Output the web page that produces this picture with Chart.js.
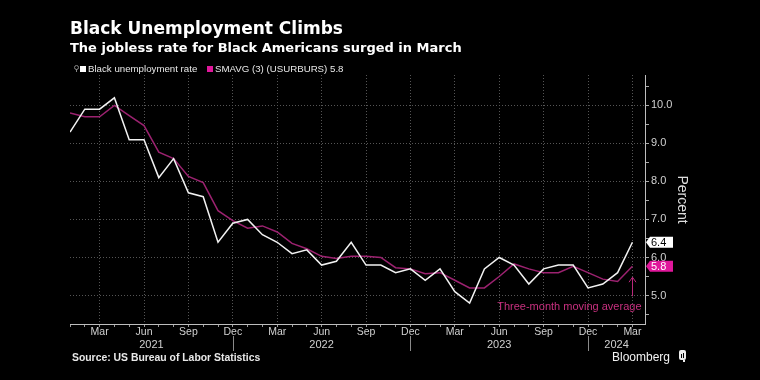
<!DOCTYPE html>
<html><head><meta charset="utf-8">
<script src="https://cdn.jsdelivr.net/npm/chart.js@4"></script>
<style>
html,body{margin:0;padding:0;background:#000;}
#wrap{position:relative;width:760px;height:380px;overflow:hidden;background:#000;font-family:'Liberation Sans',Arial,sans-serif;}
canvas{position:absolute;left:0;top:0;}
.t{position:absolute;white-space:nowrap;color:#fff;line-height:1;}
.sq{position:absolute;width:6px;height:6px;}
</style></head><body>
<div id="wrap">
<canvas id="c" width="760" height="380"></canvas>
<div class="t" style="left:70px;top:20px;font-family:'DejaVu Sans',sans-serif;font-size:17px;font-weight:bold;">Black Unemployment Climbs</div>
<div class="t" style="left:70px;top:41px;font-family:'DejaVu Sans',sans-serif;font-size:13px;font-weight:bold;">The jobless rate for Black Americans surged in March</div>
<div style="position:absolute;left:74px;top:65px;width:3px;height:3px;border:1px solid #888;border-radius:50%;"></div>
<div style="position:absolute;left:75.5px;top:69px;width:1px;height:3px;background:#888;"></div>
<div class="sq" style="left:80px;top:65.5px;background:#fff;"></div>
<div class="t" style="left:88px;top:63.5px;font-size:9.7px;color:#e8e8e8;">Black unemployment rate</div>
<div class="sq" style="left:207px;top:65.5px;background:#e0179b;"></div>
<div class="t" style="left:215px;top:63.5px;font-size:9.7px;color:#e8e8e8;">SMAVG (3) (USURBURS) 5.8</div>
<div class="t" style="left:72px;top:353px;font-size:10.4px;font-weight:bold;color:#e8e8e8;">Source: US Bureau of Labor Statistics</div>
<div class="t" style="left:612px;top:351px;font-size:12px;color:#f2f2f2;">Bloomberg</div>
<div style="position:absolute;left:679px;top:350px;width:7px;height:10px;background:#eee;border-radius:2px;"></div>
<div style="position:absolute;left:681px;top:354px;width:1px;height:4px;background:#000;"></div>
<div style="position:absolute;left:683px;top:353px;width:1px;height:5px;background:#000;"></div>
<div style="position:absolute;left:682.5px;top:360px;width:2px;height:2px;background:#eee;"></div>
</div>
<script>
// ---- data ----
const dates = ['2021-01','2021-02','2021-03','2021-04','2021-05','2021-06','2021-07','2021-08','2021-09','2021-10','2021-11','2021-12',
  '2022-01','2022-02','2022-03','2022-04','2022-05','2022-06','2022-07','2022-08','2022-09','2022-10','2022-11','2022-12',
  '2023-01','2023-02','2023-03','2023-04','2023-05','2023-06','2023-07','2023-08','2023-09','2023-10','2023-11','2023-12',
  '2024-01','2024-02','2024-03'];
const blackRate = [9.3, 9.9, 9.9, 10.2, 9.1, 9.1, 8.1, 8.6, 7.7, 7.6, 6.4, 6.9,
  7.0, 6.6, 6.4, 6.1, 6.2, 5.8, 5.9, 6.4, 5.8, 5.8, 5.6, 5.7,
  5.4, 5.7, 5.1, 4.8, 5.7, 6.0, 5.8, 5.3, 5.7, 5.8, 5.8, 5.2,
  5.3, 5.6, 6.4];
const smavg3 = [9.8, 9.7, 9.7, 10.0, 9.73, 9.47, 8.77, 8.6, 8.13, 7.97, 7.23, 6.97,
  6.77, 6.83, 6.67, 6.37, 6.23, 6.03, 5.97, 6.03, 6.03, 6.0, 5.73, 5.7,
  5.57, 5.6, 5.4, 5.2, 5.2, 5.5, 5.83, 5.7, 5.6, 5.6, 5.77, 5.6,
  5.43, 5.37, 5.77];
const monthNames = ['Jan','Feb','Mar','Apr','May','Jun','Jul','Aug','Sep','Oct','Nov','Dec'];
const quarterLabels = ['Mar','Jun','Sep','Dec'];
const years = ['2021','2022','2023','2024'];
const annotationText = 'Three-month moving average';

const FONT = "'Liberation Sans', Arial, sans-serif";
Chart.defaults.font.family = FONT;

const monthOf = i => { const d = dates[Math.round(i)]; return d ? monthNames[parseInt(d.slice(5), 10) - 1] : ''; };
const isQuarter = i => quarterLabels.includes(monthOf(i));
const toPts = arr => arr.map((v, i) => ({x: i, y: v}));

const overlay = {
  id: 'overlay',
  afterDraw(chart) {
    const {ctx, scales: {x, y}, chartArea} = chart;
    ctx.save();
    // year labels & separators
    const bounds = [x.min];
    years.forEach((yr, k) => {
      const decIdx = dates.indexOf(yr + '-12');
      if (decIdx >= 0) bounds.push(decIdx);
    });
    bounds.push(x.max);
    ctx.font = '11px ' + FONT;
    ctx.fillStyle = '#d0d0d0';
    ctx.textAlign = 'center';
    ctx.textBaseline = 'middle';
    years.forEach((yr, k) => {
      const cx = x.getPixelForValue((bounds[k] + bounds[k + 1]) / 2);
      ctx.fillText(yr, cx, chartArea.bottom + 20.5);
    });
    ctx.strokeStyle = '#8a8a8a';
    ctx.lineWidth = 1;
    for (let k = 1; k < bounds.length - 1; k++) {
      const sx = Math.round(x.getPixelForValue(bounds[k])) + 0.5;
      ctx.beginPath();
      ctx.moveTo(sx, chartArea.bottom + 12);
      ctx.lineTo(sx, chartArea.bottom + 27);
      ctx.stroke();
    }
    // annotation
    const last = dates.length - 1;
    const ax = Math.round(x.getPixelForValue(last)) + 0.5;
    const magY = y.getPixelForValue(smavg3[last]);
    const tip = magY + 11;
    ctx.strokeStyle = '#b8287a';
    ctx.beginPath();
    ctx.moveTo(ax, tip); ctx.lineTo(ax, tip + 19);
    ctx.moveTo(ax - 3.5, tip + 5); ctx.lineTo(ax, tip); ctx.lineTo(ax + 3.5, tip + 5);
    ctx.stroke();
    ctx.fillStyle = '#c8307f';
    ctx.font = '11px ' + FONT;
    ctx.textAlign = 'right';
    ctx.textBaseline = 'middle';
    ctx.fillText(annotationText, ax + 9, y.getPixelForValue(5) + 11);
    // value boxes
    const box = (val, fill, txtColor) => {
      const cy = y.getPixelForValue(val);
      const l = y.left + 1, r = y.left + 28, h = 5.5;
      ctx.fillStyle = fill;
      ctx.beginPath();
      ctx.moveTo(l, cy); ctx.lineTo(l + 4, cy - h); ctx.lineTo(r, cy - h);
      ctx.lineTo(r, cy + h); ctx.lineTo(l + 4, cy + h); ctx.closePath();
      ctx.fill();
      ctx.fillStyle = txtColor;
      ctx.font = '11px ' + FONT;
      ctx.textAlign = 'left';
      ctx.textBaseline = 'middle';
      ctx.fillText(val.toFixed(1), l + 5, cy + 0.5);
    };
    box(blackRate[last], '#ffffff', '#000000');
    box(smavg3[last], '#e0179b', '#ffffff');
    ctx.restore();
  }
};

new Chart(document.getElementById('c'), {
  type: 'line',
  data: {
    datasets: [
      {label: 'Black unemployment rate', data: toPts(blackRate), borderColor: '#f2f2f2', borderWidth: 1.5,
       pointRadius: 0, tension: 0, order: 1},
      {label: 'SMAVG (3) (USURBURS)', data: toPts(smavg3), borderColor: '#9c2270', borderWidth: 1.5,
       pointRadius: 0, tension: 0, order: 2}
    ]
  },
  options: {
    responsive: false,
    animation: false,
    events: [],
    layout: {padding: {left: 70, top: 75, right: 70, bottom: 0}},
    plugins: {legend: {display: false}, tooltip: {enabled: false}},
    scales: {
      x: {
        type: 'linear', min: 0, max: 38.85,
        afterFit: s => { s.height = 56; },
        ticks: {
          stepSize: 1, autoSkip: false, includeBounds: false, maxRotation: 0, padding: -1,
          color: '#d0d0d0', font: {size: 10.5},
          callback: v => isQuarter(v) ? monthOf(v) : ''
        },
        grid: {
          color: c => isQuarter(c.tick.value) ? '#555555' : 'rgba(0,0,0,0)',
          tickColor: '#9a9a9a', tickLength: 3, lineWidth: 1
        },
        border: {display: true, color: '#bdbdbd', width: 1, dash: [1, 2]}
      },
      y: {
        position: 'right', min: 4.25, max: 10.8,
        afterFit: s => { s.width = 45; },
        ticks: {
          stepSize: 0.5, includeBounds: false, padding: 2,
          color: '#d0d0d0', font: {size: 11},
          callback: v => Number.isInteger(v) ? v.toFixed(1) : ''
        },
        grid: {
          color: c => Number.isInteger(c.tick.value) ? '#555555' : 'rgba(0,0,0,0)',
          tickColor: '#aaaaaa', tickLength: 4, lineWidth: 1
        },
        border: {display: true, color: '#bdbdbd', width: 1, dash: [1, 2]},
        title: {display: true, text: 'Percent', color: '#dddddd', font: {size: 14}, padding: 0}
      }
    }
  },
  plugins: [overlay]
});
</script>
</body></html>
